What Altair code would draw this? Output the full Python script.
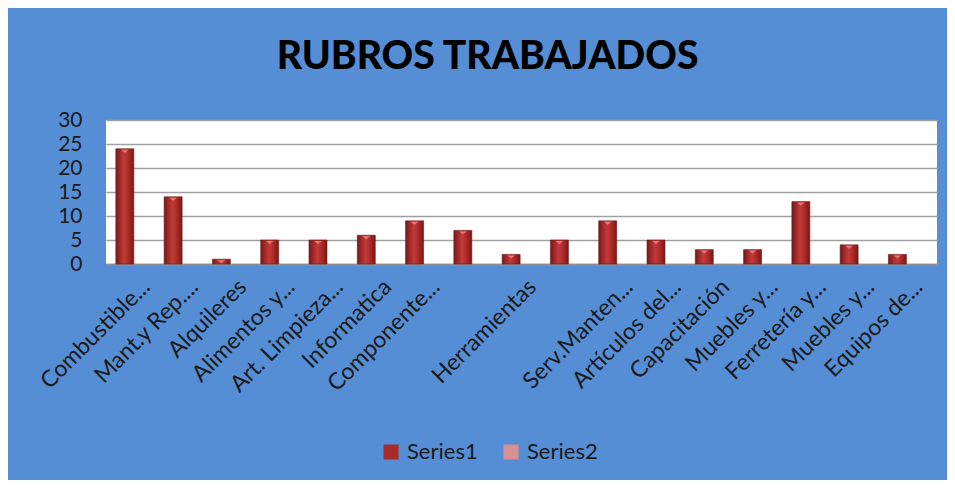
import json
import altair as alt
import pandas as pd

# ---- data ----
labels = ["Combustible...", "Mant.y Rep....", "Alquileres", "Alimentos y...",
          "Art. Limpieza...", "Informatica", "Componente...", "", "Herramientas", "",
          "Serv.Manten...", "Artículos del...", "Capacitación", "Muebles y...",
          "Ferretería y...", "Muebles y...", "Equipos de..."]
values = [24, 14, 1, 5, 5, 6, 9, 7, 2, 5, 9, 5, 3, 3, 13, 4, 2]
series_names = ["Series1", "Series2"]
series_colors = ["#A82B2B", "#D99090"]
y_ticks = [0, 5, 10, 15, 20, 25, 30]

df = pd.DataFrame({"idx": list(range(len(values))), "value": values, "series": "Series1"})

BG = "#558ED5"
FONT = "Lato"
W, H = 831, 144

label_expr = json.dumps(labels, ensure_ascii=False) + "[datum.value]"

x_enc = alt.X("idx:Q",
              scale=alt.Scale(domain=[-0.2865, 16.716], nice=False, zero=False),
              axis=alt.Axis(values=list(range(len(values))), labelExpr=label_expr,
                            labelAngle=-45, labelAlign="right", labelBaseline="middle",
                            labelOffset=21, labelPadding=19, ticks=False, grid=False,
                            domain=True, domainColor="#8C8C8C", domainWidth=1.5,
                            labelFont=FONT, labelFontSize=23, labelColor="#1A1A1A",
                            labelOverlap=False, labelBound=False, labelFlush=False,
                            title=None))
y_enc = alt.Y("value:Q",
              scale=alt.Scale(domain=[0, 30], nice=False),
              axis=alt.Axis(values=y_ticks, grid=True, gridColor="#A0A0A0", gridWidth=1.5,
                            domain=False, ticks=False, labelPadding=24,
                            labelOverlap=False, labelFlush=False,
                            labelFont=FONT, labelFontSize=21, labelColor="#1A1A1A",
                            title=None))

grad = alt.Gradient(gradient="linear", x1=0, x2=1, y1=0, y2=0,
                    stops=[alt.GradientStop(color="#7A1818", offset=0),
                           alt.GradientStop(color="#C23A36", offset=0.45),
                           alt.GradientStop(color="#B83230", offset=0.6),
                           alt.GradientStop(color="#7A1818", offset=1)])

base = alt.Chart(df)

bars = base.mark_bar(size=18, fill=grad, stroke="#6E1A1A", strokeWidth=0.6).encode(
    x=x_enc, y=y_enc)

caps = base.mark_point(shape="M-0.5,0L0.5,0L0,0.38Z", filled=True, size=240,
                       color="#E77A78", opacity=0.95, yOffset=1).encode(
    x=x_enc, y=y_enc)

legend_layer = base.mark_square(opacity=0, size=1).encode(
    x=x_enc, y=y_enc,
    color=alt.Color("series:N",
                    scale=alt.Scale(domain=series_names, range=series_colors),
                    legend=alt.Legend(orient="none", direction="horizontal",
                                      legendX=274, legendY=321, title=None,
                                      symbolType="square", symbolSize=225,
                                      symbolOpacity=1, symbolStrokeWidth=0,
                                      labelFont=FONT, labelFontSize=22,
                                      labelColor="#1A1A1A", labelOffset=5,
                                      columnPadding=22)))

chart = alt.layer(bars, caps, legend_layer).properties(
    width=W, height=H,
    title=alt.TitleParams("RUBROS TRABAJADOS", font=FONT, fontSize=39, fontWeight=900,
                          color="#000000", anchor="middle", dx=-34, offset=32),
    background=BG,
    padding={"left": 98, "top": 112, "right": 10, "bottom": 216},
    autosize=alt.AutoSizeParams(type="none"),
).configure_view(fill="white", stroke=None)

chart.save("out.html", embed_options={"renderer": "svg", "actions": False})
